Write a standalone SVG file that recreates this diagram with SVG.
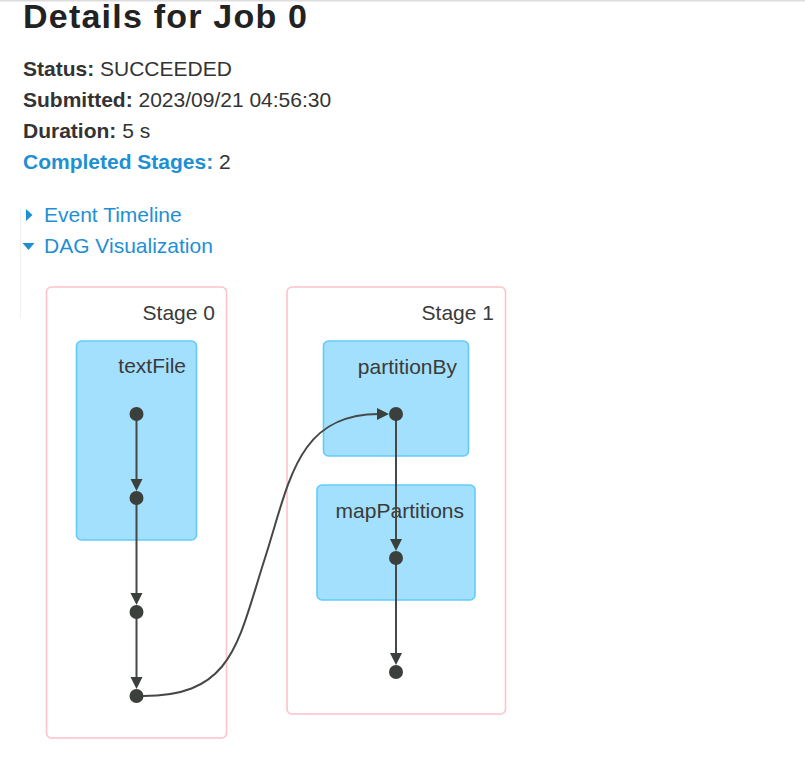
<svg xmlns="http://www.w3.org/2000/svg" width="805" height="759" viewBox="0 0 805 759">
<style>
  text { font-family: "Liberation Sans", Arial, sans-serif; }
  .body { font-size: 21px; fill: #333333; }
  .b { font-weight: bold; }
  .link { fill: #1f8fd3; }
  .lbl { font-size: 21px; fill: #3a3a3a; text-anchor: end; }
  .stage { fill: #ffffff; stroke: #ffc2ca; stroke-width: 1.6; }
  .rdd { fill: #a3e0fd; stroke: #62cbf9; stroke-width: 1.6; }
  .edge { fill: none; stroke: #454845; stroke-width: 2; }
  .dot { fill: #3c403c; }
  .ah { fill: #3c403c; }
</style>
<rect x="0" y="0" width="805" height="759" fill="#ffffff"/>
<line x1="0" y1="0.8" x2="805" y2="0.8" stroke="#dcdcdc" stroke-width="1.6"/>
<line x1="20.5" y1="208" x2="20.5" y2="318" stroke="#f0f3ec" stroke-width="1"/>

<g id="header">
  <text x="23" y="28" font-size="34" font-weight="bold" fill="#222222" textLength="284" lengthAdjust="spacing">Details for Job 0</text>
  <text x="23" y="76" class="body"><tspan class="b">Status:</tspan> SUCCEEDED</text>
  <text x="23" y="107" class="body"><tspan class="b">Submitted:</tspan> 2023/09/21 04:56:30</text>
  <text x="23" y="138" class="body"><tspan class="b">Duration:</tspan> 5 s</text>
  <text x="23" y="169" class="body"><tspan class="b link">Completed Stages:</tspan> 2</text>
  <polygon points="26,209 26,221 32.5,215" fill="#1f8fd3"/>
  <text x="44" y="222" class="body link">Event Timeline</text>
  <polygon points="22.5,243 34.5,243 28.5,250" fill="#1f8fd3"/>
  <text x="44" y="253" class="body link">DAG Visualization</text>
</g>

<g id="stage0">
  <rect class="stage" x="46.5" y="287" width="180" height="451" rx="5"/>
  <text class="lbl" x="215" y="320">Stage 0</text>
</g>
<g id="stage1">
  <rect class="stage" x="287" y="287" width="218.5" height="427" rx="5"/>
  <text class="lbl" x="494" y="320">Stage 1</text>
</g>
<g id="textFile">
  <rect class="rdd" x="76.5" y="341" width="120" height="199" rx="5"/>
  <text class="lbl" x="186" y="373">textFile</text>
</g>
<g id="partitionBy">
  <rect class="rdd" x="323.5" y="341" width="145" height="115" rx="5"/>
  <text class="lbl" x="457" y="374">partitionBy</text>
</g>
<g id="mapPartitions">
  <rect class="rdd" x="317" y="485" width="158" height="115" rx="5"/>
  <text class="lbl" x="464" y="518">mapPartitions</text>
</g>

<g id="connectors">
  <line class="edge" x1="136.5" y1="414" x2="136.5" y2="481"/>
  <polygon class="ah" points="130.5,479 142.5,479 136.5,491"/>
  <line class="edge" x1="136.5" y1="498" x2="136.5" y2="595"/>
  <polygon class="ah" points="130.5,593 142.5,593 136.5,605"/>
  <line class="edge" x1="136.5" y1="612" x2="136.5" y2="679"/>
  <polygon class="ah" points="130.5,677 142.5,677 136.5,689"/>
  <path class="edge" d="M143,696 C233,696 237.5,643.7 265,558 C289.4,481.8 297,414 379,414"/>
  <polygon class="ah" points="377,408 377,420 389,414"/>
  <line class="edge" x1="396" y1="414" x2="396" y2="541"/>
  <polygon class="ah" points="390,539 402,539 396,551"/>
  <line class="edge" x1="396" y1="558" x2="396" y2="655"/>
  <polygon class="ah" points="390,653 402,653 396,665"/>
</g>

<g id="dots">
  <circle class="dot" cx="136.5" cy="414" r="7"/>
  <circle class="dot" cx="136.5" cy="498" r="7"/>
  <circle class="dot" cx="136.5" cy="612" r="7"/>
  <circle class="dot" cx="136.5" cy="696" r="7"/>
  <circle class="dot" cx="396" cy="414" r="7"/>
  <circle class="dot" cx="396" cy="558" r="7"/>
  <circle class="dot" cx="396" cy="672" r="7"/>
</g>
</svg>
